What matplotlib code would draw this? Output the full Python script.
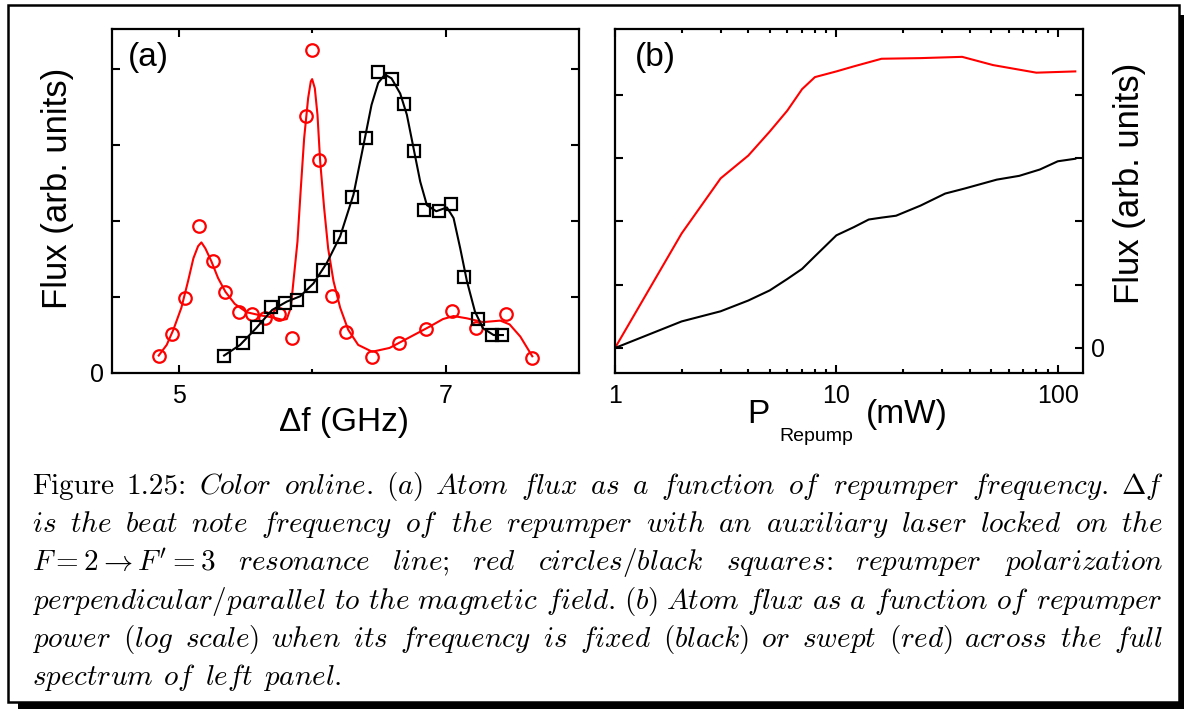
import re
import matplotlib
matplotlib.use("Agg")
import matplotlib.pyplot as plt
from matplotlib.patches import Rectangle
from matplotlib.ticker import LogLocator, NullFormatter

# panel (a): atom flux vs repumper beat frequency (GHz, arb. units)
red_f = [4.85, 4.95, 5.05, 5.15, 5.26, 5.35, 5.45, 5.55, 5.65, 5.75, 5.85, 5.955,
         6.00, 6.055, 6.15, 6.25, 6.45, 6.65, 6.85, 7.05, 7.23, 7.45, 7.65]
red_flux = [0.23, 0.52, 0.99, 1.94, 1.47, 1.07, 0.80, 0.78, 0.72, 0.78, 0.46, 3.38,
            4.25, 2.80, 1.02, 0.54, 0.21, 0.39, 0.58, 0.82, 0.59, 0.78, 0.20]
red_fit_f = [4.85, 4.91, 4.96, 5.02, 5.07, 5.11, 5.145, 5.17, 5.20, 5.245, 5.295, 5.35,
             5.42, 5.51, 5.61, 5.71, 5.78, 5.81, 5.84, 5.86, 5.89, 5.915, 5.94, 5.97,
             5.99, 6.00, 6.02, 6.04, 6.06, 6.09, 6.12, 6.16, 6.21, 6.27, 6.345, 6.45,
             6.58, 6.73, 6.88, 6.98, 7.06, 7.16, 7.28, 7.41, 7.48, 7.56, 7.65]
red_fit = [0.23, 0.37, 0.57, 0.86, 1.21, 1.51, 1.67, 1.72, 1.64, 1.47, 1.25, 1.07,
           0.91, 0.80, 0.76, 0.73, 0.70, 0.71, 0.86, 1.21, 1.73, 2.43, 3.09, 3.62,
           3.84, 3.87, 3.75, 3.40, 2.79, 2.17, 1.64, 1.21, 0.86, 0.57, 0.37, 0.28,
           0.33, 0.47, 0.61, 0.71, 0.75, 0.72, 0.67, 0.69, 0.64, 0.48, 0.22]

black_f = [5.34, 5.48, 5.59, 5.69, 5.795, 5.89, 5.99, 6.08, 6.21, 6.30, 6.40, 6.49,
           6.60, 6.69, 6.76, 6.84, 6.95, 7.04, 7.135, 7.24, 7.35, 7.425]
black_flux = [0.23, 0.39, 0.61, 0.87, 0.92, 0.96, 1.15, 1.35, 1.79, 2.32, 3.10, 3.96,
              3.87, 3.54, 2.93, 2.15, 2.13, 2.22, 1.27, 0.71, 0.50, 0.50]
black_fit_f = [5.34, 5.46, 5.58, 5.70, 5.81, 5.91, 6.01, 6.11, 6.21, 6.31, 6.395, 6.445,
               6.495, 6.545, 6.595, 6.66, 6.71, 6.76, 6.81, 6.86, 6.93, 7.01, 7.06,
               7.11, 7.16, 7.22, 7.28, 7.36, 7.43]
black_fit = [0.23, 0.37, 0.59, 0.83, 0.94, 1.01, 1.18, 1.45, 1.80, 2.35, 3.09, 3.53,
             3.82, 3.93, 3.88, 3.68, 3.40, 2.96, 2.52, 2.21, 2.13, 2.18, 2.04,
             1.64, 1.21, 0.81, 0.59, 0.50, 0.50]

# panel (b): atom flux vs repumper power (mW)
swept_p = [1, 2, 3, 4, 5, 6, 7, 8, 10, 12, 16, 24, 37, 51, 80, 120]
swept_flux = [0.0, 1.81, 2.68, 3.04, 3.42, 3.75, 4.09, 4.28, 4.37, 4.45, 4.57, 4.58,
              4.60, 4.47, 4.35, 4.37]
fixed_p = [1, 2, 3, 4, 5, 6, 7, 8, 10, 12, 14, 16, 18.6, 24, 31, 38, 53, 67, 83, 100, 120]
fixed_flux = [0.0, 0.42, 0.58, 0.75, 0.91, 1.09, 1.25, 1.45, 1.78, 1.91, 2.03, 2.06,
              2.09, 2.25, 2.44, 2.52, 2.66, 2.72, 2.82, 2.95, 2.99]

RED = "#ff0000"
W, H = 1184, 709
CAP_SIZE = 21


def it(word):
    return re.sub(r"([A-Za-z]+)", r"$\\mathit{\1}$", word)


CAPTION = [
    ["Figure", "1.25:"] + [it(w) for w in "Color online. (a) Atom flux as a function of repumper frequency.".split()] + [r"$\Delta f$"],
    [it(w) for w in "is the beat note frequency of the repumper with an auxiliary laser locked on the".split()],
    [r"$F = 2 \rightarrow F' = 3$"] + [it(w) for w in "resonance line; red circles/black squares: repumper polarization".split()],
    [it(w) for w in "perpendicular/parallel to the magnetic field. (b) Atom flux as a function of repumper".split()],
    [it(w) for w in "power (log scale) when its frequency is fixed (black) or swept (red) across the full".split()],
    [it(w) for w in "spectrum of left panel.".split()],
]

plt.rcParams["font.family"] = ["Liberation Sans", "DejaVu Sans"]
plt.rcParams["mathtext.fontset"] = "cm"

fig = plt.figure(figsize=(W / 100, H / 100), dpi=100)


def fx(px):
    return px / W


def fy(py):
    return 1 - py / H


# boxed figure with a drop shadow
fig.patches.append(Rectangle((fx(18), 0), (W - 18) / W, (H - 15) / H, transform=fig.transFigure,
                             facecolor="black", edgecolor="none", zorder=-10))
fig.patches.append(Rectangle((fx(8), fy(702)), (1179 - 8) / W, (702 - 5) / H, transform=fig.transFigure,
                             facecolor="white", edgecolor="black", linewidth=1.8, zorder=-9))

ax_a = fig.add_axes([fx(112), fy(373), (579 - 112) / W, (373 - 29) / H])
ax_b = fig.add_axes([fx(615), fy(373), (1083 - 615) / W, (373 - 29) / H])

for ax in (ax_a, ax_b):
    ax.set_facecolor("white")
    for s in ax.spines.values():
        s.set_linewidth(1.6)
    ax.tick_params(which="both", direction="in", top=True, right=True, width=1.5, labelsize=18)
    ax.tick_params(which="major", length=5.5)
    ax.tick_params(which="minor", length=3)

# (a)
ax_a.plot(red_fit_f, red_fit, color=RED, lw=1.5)
ax_a.plot(red_f, red_flux, "o", ms=9, mfc="none", mec=RED, mew=1.6)
ax_a.plot(black_fit_f, black_fit, color="black", lw=1.5)
ax_a.plot(black_f, black_flux, "s", ms=8.5, mfc="none", mec="black", mew=1.6)
ax_a.set_xlim(4.5, 8.0)
ax_a.set_ylim(0, 4.53)
ax_a.set_xticks([5, 7])
ax_a.set_xticks([6], minor=True)
ax_a.set_yticks([0, 1, 2, 3, 4])
ax_a.set_yticklabels(["0", "", "", "", ""])
ax_a.tick_params(axis="x", pad=8)
ax_a.tick_params(axis="y", pad=6)
ax_a.text(0.034, 0.916, "(a)", transform=ax_a.transAxes, fontsize=24, ha="left", va="center")
ax_a.text(-0.116, 0.538, "Flux (arb. units)", transform=ax_a.transAxes, fontsize=25,
          rotation=90, ha="center", va="center")
ax_a.text(0.497, -0.145, "\u0394f (GHz)", transform=ax_a.transAxes, fontsize=24,
          ha="center", va="center")

# (b)
ax_b.plot(swept_p, swept_flux, color=RED, lw=1.5)
ax_b.plot(fixed_p, fixed_flux, color="black", lw=1.5)
ax_b.set_xscale("log")
ax_b.set_xlim(1, 130)
ax_b.set_ylim(-0.395, 5.04)
ax_b.set_xticks([1, 10, 100])
ax_b.set_xticklabels(["1", "10", "100"])
ax_b.xaxis.set_minor_locator(LogLocator(base=10, subs=range(2, 10)))
ax_b.xaxis.set_minor_formatter(NullFormatter())
ax_b.set_yticks([0, 1, 2, 3, 4])
ax_b.set_yticklabels(["0", "", "", "", ""])
ax_b.tick_params(axis="y", labelleft=False, labelright=True, pad=6)
ax_b.tick_params(axis="x", pad=8)
ax_b.text(0.043, 0.916, "(b)", transform=ax_b.transAxes, fontsize=24, ha="left", va="center")
ax_b.text(1.100, 0.552, "Flux (arb. units)", transform=ax_b.transAxes, fontsize=25,
          rotation=90, ha="center", va="center")
fig.text(fx(747), fy(423), "P", fontsize=24, va="baseline")
fig.text(fx(779), fy(441), "Repump", fontsize=14, va="baseline")
fig.text(fx(866), fy(423), "(mW)", fontsize=24, va="baseline")

# justified caption
renderer = fig.canvas.get_renderer()
space = 0.33 * CAP_SIZE * 100 / 72
for i, tokens in enumerate(CAPTION):
    y = fy(494 + i * 38.2)
    texts = [fig.text(0, y, t, fontsize=CAP_SIZE, family="cmr10", va="baseline") for t in tokens]
    widths = [t.get_window_extent(renderer).width for t in texts]
    if i < len(CAPTION) - 1:
        gap = (1163 - 32 - sum(widths)) / (len(texts) - 1)
    else:
        gap = space
    x = 32
    for t, w in zip(texts, widths):
        t.set_x(fx(x))
        x += w + gap

fig.savefig("out.png", dpi=100, facecolor="white")
